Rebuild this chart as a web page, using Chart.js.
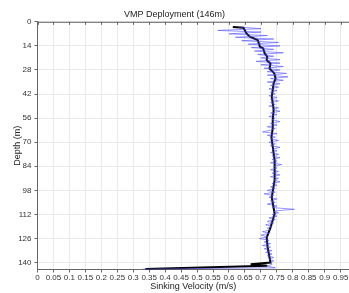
<!DOCTYPE html>
<html>
<head>
<meta charset="utf-8">
<script src="https://cdn.jsdelivr.net/npm/chart.js@4.4.1/dist/chart.umd.min.js"></script>
<style>
  html, body { margin: 0; padding: 0; background: #fff; }
  #wrap { width: 349px; height: 293px; }
</style>
</head>
<body>
<div id="wrap"><canvas id="c"></canvas></div>
<script>
// tick labels
const xTicks = [0, 0.05, 0.1, 0.15, 0.2, 0.25, 0.3, 0.35, 0.4, 0.45, 0.5, 0.55, 0.6, 0.65, 0.7, 0.75, 0.8, 0.85, 0.9, 0.95];
const yTicks = [0, 14, 28, 42, 56, 70, 84, 98, 112, 126, 140];

// raw profile (blue)
const rawDepth = [3, 4, 5, 6, 7, 8, 9, 10, 11, 12, 13, 14, 15, 16, 17, 18, 19, 20, 21, 22, 23, 24, 25, 26, 27, 28, 29, 30,
  31, 32, 33, 34, 35, 36, 37, 38, 39, 40, 41, 42, 43, 44, 45, 46, 47, 48, 49, 50, 51, 52, 53, 54, 55, 56, 57, 58, 59, 60,
  61, 62, 63, 64, 65, 66, 67, 68, 69, 70, 71, 72, 73, 74, 75, 76, 77, 78, 79, 80, 81, 82, 83, 84, 85, 86, 87, 88, 89, 90,
  91, 92, 93, 94, 95, 96, 97, 98, 99, 100, 101, 102, 103, 104, 105, 106, 107, 108, 109, 110, 111, 112, 113, 114, 115, 116,
  117, 118, 119, 120, 121, 122, 123, 124, 125, 126, 127, 128, 129, 130, 131, 132, 133, 134, 135, 136, 137, 138, 139, 140,
  141, 142, 143, 143.8];
const rawVel = [0.63, 0.70, 0.565, 0.70, 0.60, 0.72, 0.62, 0.74, 0.64, 0.755, 0.66, 0.76, 0.67, 0.74, 0.68, 0.77, 0.69, 0.74, 0.70, 0.76, 0.685, 0.76, 0.70, 0.77, 0.71, 0.76, 0.72, 0.78,
  0.72, 0.785, 0.73, 0.77, 0.72, 0.76, 0.73, 0.755, 0.725, 0.75, 0.73, 0.745, 0.725, 0.75, 0.73, 0.755, 0.73, 0.745, 0.725, 0.755, 0.735, 0.76, 0.73, 0.75, 0.725, 0.745, 0.735, 0.76, 0.73, 0.75,
  0.72, 0.745, 0.73, 0.705, 0.75, 0.72, 0.745, 0.73, 0.755, 0.725, 0.745, 0.73, 0.76, 0.735, 0.75, 0.73, 0.755, 0.735, 0.76, 0.735, 0.75, 0.73, 0.765, 0.74, 0.75, 0.73, 0.755, 0.735, 0.76, 0.73,
  0.755, 0.74, 0.76, 0.735, 0.75, 0.73, 0.745, 0.72, 0.745, 0.71, 0.74, 0.725, 0.75, 0.73, 0.745, 0.72, 0.75, 0.735, 0.805, 0.74, 0.755, 0.735, 0.75, 0.725, 0.745, 0.72,
  0.74, 0.715, 0.735, 0.72, 0.73, 0.705, 0.725, 0.70, 0.72, 0.695, 0.725, 0.71, 0.73, 0.705, 0.73, 0.71, 0.735, 0.715, 0.735, 0.72, 0.74, 0.725, 0.74, 0.73,
  0.735, 0.72, 0.745, 0.33];

// smoothed profile (black)
const smoothDepth = [3, 3.5, 6.8, 8.7, 10.6, 14.5, 15.5, 18.4, 20.3, 22.3, 24.2, 27.1, 30, 33, 35.6, 43.6, 51, 57, 62, 67, 74, 80.6, 92, 102, 111.6, 119.7, 125.5, 131, 137, 140, 141, 141.8, 143.7];
const smoothVel = [0.612, 0.645, 0.655, 0.665, 0.69, 0.697, 0.707, 0.712, 0.72, 0.718, 0.73, 0.727, 0.742, 0.746, 0.74, 0.734, 0.74, 0.737, 0.737, 0.733, 0.738, 0.743, 0.743, 0.734, 0.743, 0.73, 0.718, 0.721, 0.727, 0.73, 0.668, 0.72, 0.338];

const toPoints = (xs, ys) => ys.map((d, i) => ({ x: xs[i], y: d }));

const font = { family: "'Liberation Sans', Arial, sans-serif", size: 8, weight: 'normal' };

const frame = {
  id: 'frame',
  afterDraw(chart) {
    const { ctx, chartArea: a } = chart;
    ctx.save();
    ctx.strokeStyle = '#666';
    ctx.lineWidth = 1;
    ctx.beginPath();
    ctx.moveTo(a.left, a.top + 0.5);
    ctx.lineTo(a.right, a.top + 0.5);
    ctx.stroke();
    // small inward ticks on the top edge
    const xs = chart.scales.x;
    ctx.beginPath();
    xTicks.forEach(v => {
      const px = Math.round(xs.getPixelForValue(v)) + 0.5;
      ctx.moveTo(px, a.top);
      ctx.lineTo(px, a.top + 3);
    });
    ctx.stroke();
    ctx.restore();
  }
};

new Chart(document.getElementById('c'), {
  type: 'scatter',
  data: {
    datasets: [
      {
        data: toPoints(rawVel, rawDepth),
        showLine: true,
        borderColor: 'rgba(80,80,255,0.75)',
        borderWidth: 0.8,
        pointRadius: 0,
        tension: 0
      },
      {
        data: toPoints(smoothVel, smoothDepth),
        showLine: true,
        borderColor: '#000',
        borderWidth: 2,
        pointRadius: 0,
        tension: 0
      }
    ]
  },
  options: {
    responsive: true,
    maintainAspectRatio: false,
    animation: false,
    layout: { padding: 0 },
    plugins: {
      legend: { display: false },
      tooltip: { enabled: false },
      title: {
        display: true,
        text: 'VMP Deployment (146m)',
        color: '#222',
        font: { ...font, size: 9 },
        padding: { top: 9, bottom: 2 }
      }
    },
    scales: {
      x: {
        type: 'linear',
        min: 0,
        max: 0.976,
        afterBuildTicks: axis => { axis.ticks = xTicks.map(v => ({ value: v })); },
        afterFit: s => { s.height = 23.5; },
        ticks: { font, color: '#333', padding: 0, maxRotation: 0, autoSkip: false, callback: v => String(v) },
        grid: { color: '#e9e9e9', tickLength: 3, tickColor: '#666' },
        border: { color: '#666' },
        title: { display: true, text: 'Sinking Velocity (m/s)', color: '#222', font: { ...font, size: 9 }, padding: { top: 0, bottom: 1 } }
      },
      y: {
        type: 'linear',
        reverse: true,
        min: 0,
        max: 144,
        afterBuildTicks: axis => { axis.ticks = yTicks.map(v => ({ value: v })); },
        afterFit: s => { s.width = 37.5; },
        ticks: { font, color: '#333', padding: 3, autoSkip: false },
        grid: { color: '#e9e9e9', tickLength: 3, tickColor: '#666' },
        border: { color: '#666' },
        title: { display: true, text: 'Depth (m)', color: '#222', font: { ...font, size: 9 }, padding: { top: 12, bottom: 0 } }
      }
    }
  },
  plugins: [frame]
});
</script>
</body>
</html>
